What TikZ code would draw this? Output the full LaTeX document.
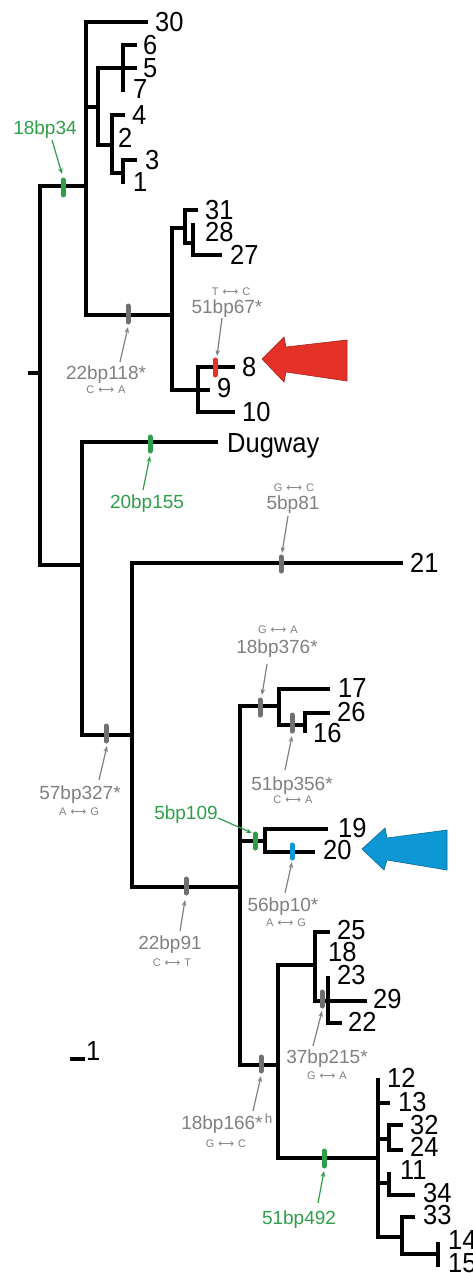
\documentclass[tikz,border=0pt]{standalone}
\usepackage{fontspec}
\setmainfont{Liberation Sans}
\newfontfamily\djv{DejaVu Sans}
\usetikzlibrary{arrows.meta}
\definecolor{mgreen}{RGB}{46,158,72}
\definecolor{mgray}{RGB}{128,128,128}
\definecolor{mkgray}{RGB}{112,112,112}
\definecolor{mred}{RGB}{229,50,40}
\definecolor{mblue}{RGB}{13,152,213}
\newcommand\mutarr[2]{#1\hspace{4pt}{\djv ⟷}\hspace{4pt}#2}
\tikzset{
  br/.style={line width=4.2pt, line join=miter, line cap=butt, black},
  mk/.style={line width=5pt, line cap=round},
  taxon/.style={font=\fontsize{25.5}{30}\selectfont, anchor=base west, inner sep=0pt, yshift=-9.6pt, yscale=1.08},
  blab/.style={font=\fontsize{19}{23}\selectfont, anchor=base, inner sep=0pt, yshift=-6.8pt},
  slab/.style={font=\fontsize{11}{13}\selectfont, anchor=base, inner sep=0pt, yshift=-4pt, text=mgray},
  ann/.style={line width=1.2pt, -{Stealth[length=6pt,width=4.5pt]}},
}
\begin{document}
\begin{tikzpicture}[x=1pt,y=-1pt]
\useasboundingbox (0,0) rectangle (473,1273);
\begin{scope}
\clip (0,0) rectangle (473,1273);
% ---------- tree branches ----------
\draw[br] (28,373) -- (40,373);
\draw[br] (86,186) -- (40,186) -- (40,565) -- (82,565);
% upper clade
\draw[br] (148,22) -- (86,22) -- (86,315) -- (172,315);
\draw[br] (86,107) -- (98,107);
\draw[br] (137,68) -- (98,68) -- (98,145) -- (112,145);
\draw[br] (137,45) -- (123,45) -- (123,92);
\draw[br] (125,115) -- (112,115) -- (112,173) -- (123,173);
\draw[br] (137,160) -- (123,160) -- (123,184);
\draw[br] (185,228) -- (172,228) -- (172,390) -- (210,390);
\draw[br] (198,210) -- (185,210) -- (185,243) -- (193,243);
\draw[br] (193,223) -- (193,255) -- (222,255);
\draw[br] (235,367) -- (198,367) -- (198,412) -- (235,412);
% lower clade
\draw[br] (218,442) -- (82,442) -- (82,735) -- (132,735);
\draw[br] (403,563) -- (132,563) -- (132,887) -- (240,887);
\draw[br] (277,706) -- (240,706) -- (240,1065) -- (278,1065);
\draw[br] (330,689) -- (279,689) -- (279,725) -- (305,725);
\draw[br] (330,713) -- (305,713) -- (305,733);
\draw[br] (240,841) -- (265,841);
\draw[br] (328,829) -- (265,829) -- (265,852) -- (315,852);
\draw[br] (315,965) -- (278,965) -- (278,1158) -- (378,1158);
\draw[br] (330,932) -- (315,932) -- (315,1001) -- (328,1001);
\draw[br] (328,976) -- (328,1023) -- (342,1023);
\draw[br] (328,1001) -- (367,1001);
\draw[br] (378,1078) -- (378,1237) -- (402,1237);
\draw[br] (378,1103) -- (390,1103);
\draw[br] (378,1139) -- (389,1139);
\draw[br] (403,1125) -- (389,1125) -- (389,1150) -- (403,1150);
\draw[br] (378,1183) -- (389,1183);
\draw[br] (389,1172) -- (389,1195) -- (415,1195);
\draw[br] (415,1217) -- (402,1217) -- (402,1254) -- (438,1254);
\draw[br] (438,1242) -- (438,1267);
% scale bar
\draw[br] (70,1059) -- (85,1059);
\node[taxon] (sc) at (86,1051) {1};
% ---------- taxa ----------
\node[taxon] (t30) at (155,22) {30};
\node[taxon] (t6) at (143,45) {6};
\node[taxon] (t5) at (143,68) {5};
\node[taxon] (t7) at (133,89) {7};
\node[taxon] (t4) at (132,115) {4};
\node[taxon] (t2) at (118,138) {2};
\node[taxon] (t3) at (145,160) {3};
\node[taxon] (t1) at (133,182) {1};
\node[taxon] (t31) at (205,210) {31};
\node[taxon] (t28) at (205,232) {28};
\node[taxon] (t27) at (230,255) {27};
\node[taxon] (t8) at (242,367) {8};
\node[taxon] (t9) at (217,388) {9};
\node[taxon] (t10) at (242,412) {10};
\node[taxon] (tdug) at (227,443) {Dugway};
\node[taxon] (t21) at (410,563) {21};
\node[taxon] (t17) at (338,688) {17};
\node[taxon] (t26) at (337,712) {26};
\node[taxon] (t16) at (313,733) {16};
\node[taxon] (t19) at (338,828) {19};
\node[taxon] (t20) at (323,850) {20};
\node[taxon] (t25) at (337,930) {25};
\node[taxon] (t18) at (328,952) {18};
\node[taxon] (t23) at (337,975) {23};
\node[taxon] (t29) at (373,999) {29};
\node[taxon] (t22) at (348,1022) {22};
\node[taxon] (t12) at (387,1078) {12};
\node[taxon] (t13) at (398,1102) {13};
\node[taxon] (t32) at (410,1125) {32};
\node[taxon] (t24) at (410,1147) {24};
\node[taxon] (t11) at (400,1170) {11};
\node[taxon] (t34) at (423,1193) {34};
\node[taxon] (t33) at (423,1215) {33};
\node[taxon] (t14) at (448,1240) {14};
\node[taxon] (t15) at (448,1263) {15};
% ---------- mutation marks ----------
\draw[mk, mgreen] (63,180) -- (63,195);
\draw[mk, mkgray] (128,306) -- (128,322);
\draw[mk, mred] (215,360) -- (215,375);
\draw[mk, mgreen] (150,437) -- (150,451);
\draw[mk, mkgray] (281,557) -- (281,571);
\draw[mk, mkgray] (106,726) -- (106,741);
\draw[mk, mkgray] (260,700) -- (260,715);
\draw[mk, mkgray] (292,715) -- (292,731);
\draw[mk, mgreen] (255,834) -- (255,848);
\draw[mk, mblue] (292,845) -- (292,858);
\draw[mk, mkgray] (186,879) -- (186,893);
\draw[mk, mkgray] (322,992) -- (322,1006);
\draw[mk, mkgray] (261,1057) -- (261,1071);
\draw[mk, mgreen] (324,1151) -- (324,1166);
% ---------- labels ----------
\node[blab, text=mgreen] (a1) at (45,128) {18bp34};
\node[blab, text=mgray] (a2) at (106,373) {22bp118*};
\node[slab] (a2s) at (106,389) {\mutarr{C}{A}};
\node[slab] (a3s) at (231,291) {\mutarr{T}{C}};
\node[blab, text=mgray] (a3) at (227,307) {51bp67*};
\node[blab, text=mgreen] (a4) at (147,502) {20bp155};
\node[slab] (a5s) at (294,487) {\mutarr{G}{C}};
\node[blab, text=mgray] (a5) at (293,503) {5bp81};
\node[blab, text=mgray] (a6) at (80,793) {57bp327*};
\node[slab] (a6s) at (79,811) {\mutarr{A}{G}};
\node[blab, text=mgray] (a7) at (170,943) {22bp91};
\node[slab] (a7s) at (172,962) {\mutarr{C}{T}};
\node[slab] (a8s) at (278,629) {\mutarr{G}{A}};
\node[blab, text=mgray] (a8) at (277,647) {18bp376*};
\node[blab, text=mgray] (a9) at (292,784) {51bp356*};
\node[slab] (a9s) at (293,799) {\mutarr{C}{A}};
\node[blab, text=mgreen] (a10) at (186,813) {5bp109};
\node[blab, text=mgray] (a11) at (283,905) {56bp10*};
\node[slab] (a11s) at (286,922) {\mutarr{A}{G}};
\node[blab, text=mgray] (a12) at (327,1057) {37bp215*};
\node[slab] (a12s) at (327,1075) {\mutarr{G}{A}};
\node[blab, text=mgray] (a13) at (227,1123) {18bp166*\textsuperscript{\,h}};
\node[slab] (a13s) at (226,1143) {\mutarr{G}{C}};
\node[blab, text=mgreen] (a14) at (299,1218) {51bp492};
% ---------- annotation arrows ----------
\coordinate (s1) at (52,140);  \coordinate (e1) at (62,174);
\coordinate (s2) at (120,362); \coordinate (e2) at (128,327);
\coordinate (s3) at (222,318); \coordinate (e3) at (217,356);
\coordinate (s4) at (143,490); \coordinate (e4) at (150,456);
\coordinate (s5) at (288,516); \coordinate (e5) at (282,553);
\coordinate (s6) at (99,780);  \coordinate (e6) at (107,746);
\coordinate (s7) at (180,931); \coordinate (e7) at (185,900);
\coordinate (s8) at (267,664); \coordinate (e8) at (262,695);
\coordinate (s9) at (285,770); \coordinate (e9) at (292,736);
\coordinate (s10) at (218,818); \coordinate (e10) at (252,833);
\coordinate (s11) at (285,893); \coordinate (e11) at (292,862);
\coordinate (s12) at (313,1046); \coordinate (e12) at (322,1011);
\coordinate (s13) at (253,1111); \coordinate (e13) at (261,1076);
\coordinate (s14) at (318,1203); \coordinate (e14) at (324,1171);
\draw[ann, mgreen] (s1) -- (e1);
\draw[ann, mgray] (s2) -- (e2);
\draw[ann, mgray] (s3) -- (e3);
\draw[ann, mgreen] (s4) -- (e4);
\draw[ann, mgray] (s5) -- (e5);
\draw[ann, mgray] (s6) -- (e6);
\draw[ann, mgray] (s7) -- (e7);
\draw[ann, mgray] (s8) -- (e8);
\draw[ann, mgray] (s9) -- (e9);
\draw[ann, mgreen] (s10) -- (e10);
\draw[ann, mgray] (s11) -- (e11);
\draw[ann, mgray] (s12) -- (e12);
\draw[ann, mgray] (s13) -- (e13);
\draw[ann, mgreen] (s14) -- (e14);
% ---------- big arrows ----------
\draw[fill=mred, draw=mred!70!black, line width=0.6pt]
  (262,359) -- (284,337) -- (286,347) -- (347,340) -- (347,381) -- (286,372) -- (284,382) -- cycle;
\draw[fill=mblue, draw=mblue!70!black, line width=0.6pt]
  (362,849) -- (385,828) -- (387,838) -- (447,830) -- (447,870) -- (387,860) -- (384,870) -- cycle;
\end{scope}
\end{tikzpicture}
\end{document}
